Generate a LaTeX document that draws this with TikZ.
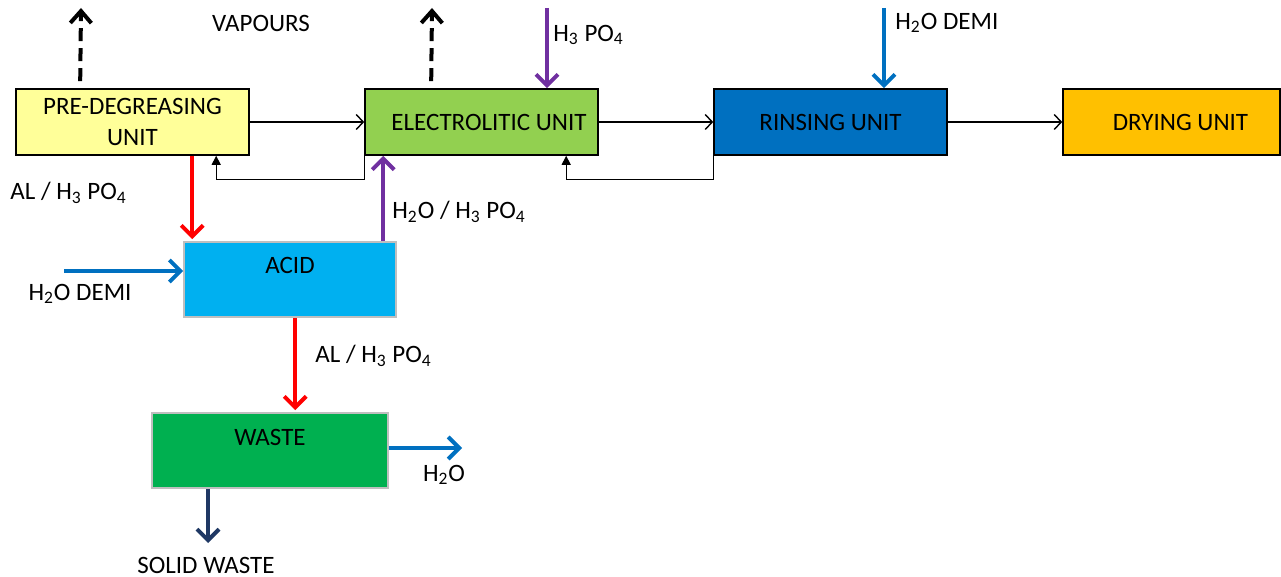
\documentclass[tikz,border=0pt]{standalone}
\usepackage{fontspec}
\setmainfont{Carlito}
\usetikzlibrary{arrows.meta,calc}
\definecolor{cyellow}{HTML}{FFFF99}
\definecolor{cgreen}{HTML}{92D050}
\definecolor{cblue}{HTML}{0070C0}
\definecolor{corange}{HTML}{FFC000}
\definecolor{cacid}{HTML}{00B0F0}
\definecolor{cwaste}{HTML}{00B050}
\definecolor{cgray}{HTML}{BFBFBF}
\definecolor{cred}{HTML}{FF0000}
\definecolor{cpurple}{HTML}{7030A0}
\definecolor{cnavy}{HTML}{1F3864}
\tikzset{
  unitbox/.style={draw=black, line width=0.8pt, minimum width=116.5pt, minimum height=33pt, inner sep=0pt, align=center},
  tankbox/.style={draw=cgray, line width=0.8pt, inner sep=0pt},
  flow/.style={line width=0.7pt, -{Straight Barb[length=3.5pt,width=7.5pt,line width=0.7pt]}},
  backflow/.style={line width=0.7pt, -{Triangle[length=4.5pt,width=4.5pt]}},
  stream/.style={line width=2pt, -{Straight Barb[length=5.5pt,width=11pt,line width=2pt]}},
  vapour/.style={line width=2pt, dash pattern=on 6.5pt off 3.5pt, -{Straight Barb[length=6pt,width=10.5pt,line width=2pt]}},
  lbl/.style={inner sep=0pt}
}
\begin{document}
\begin{tikzpicture}[x=0.5pt,y=-0.5pt, font=\fontsize{12.5}{15.5}\selectfont]
\useasboundingbox (0,0) rectangle (1281,577);

% units
\node[unitbox, fill=cyellow] (pre) at (132.5,122) {PRE-DEGREASING\\UNIT};
\node[unitbox, fill=cgreen] (elec) at (481.5,122) {\hspace*{7.5pt}ELECTROLITIC UNIT};
\node[unitbox, fill=cblue] (rinse) at (830.5,122) {RINSING UNIT};
\node[unitbox, fill=corange, minimum width=108.5pt] (dry) at (1171.5,122) {\hspace*{9pt}DRYING UNIT};
\node[tankbox, fill=cacid, minimum width=106pt, minimum height=37.5pt,
      label={[anchor=north, inner sep=0pt, yshift=-8pt]north:ACID}] (acid) at (290,279.5) {};
\node[tankbox, fill=cwaste, minimum width=118pt, minimum height=37.5pt,
      label={[anchor=north, inner sep=0pt, yshift=-8.5pt]north:WASTE}] (waste) at (270,450.5) {};

% free ends
\coordinate (vapA) at (81,8);
\coordinate (vapB) at (432,8);
\coordinate (h3po4in) at (547,8);
\coordinate (h2otop) at (884,8);
\coordinate (h2oleft) at (64,271);
\coordinate (h2oout) at (462,448);
\coordinate (solid) at (208,543);

% main line
\draw[flow] (pre.east) -- (elec.west);
\draw[flow] (elec.east) -- (rinse.west);
\draw[flow] (rinse.east) -- (dry.west);

% back flows
\draw[backflow] (elec.south west) -- ++(0,24) -| ($(pre.south west)+(201,0)$);
\draw[backflow] (rinse.south west) -- ++(0,24) -| ($(elec.south west)+(202,0)$);

% vapours
\draw[vapour] ($(pre.north west)+(65,-7)$) -- (vapA);
\draw[vapour] ($(elec.north west)+(67,-7)$) -- (vapB);
\node[lbl] (vaplbl) at (261,23) {VAPOURS};

% inputs from top
\draw[stream, cpurple] (h3po4in) -- (h3po4in |- elec.north);
\node[lbl, anchor=west] (h3po4lbl) at (553,35) {H\textsubscript{3} PO\textsubscript{4}};
\draw[stream, cblue] (h2otop) -- (h2otop |- rinse.north);
\node[lbl, anchor=west] (h2otoplbl) at (895,23) {H\textsubscript{2}O DEMI};

% acid connections
\coordinate (redA) at ($(pre.south west)+(177,0)$);
\draw[stream, cred, shorten >=1pt] (redA) -- (redA |- acid.north);
\node[lbl, anchor=west] (al1) at (10,193) {AL / H\textsubscript{3} PO\textsubscript{4}};
\coordinate (purA) at ($(acid.north west)+(200,0)$);
\draw[stream, cpurple] (purA) -- (purA |- elec.south);
\node[lbl, anchor=west] (h2oh3lbl) at (392,212) {H\textsubscript{2}O / H\textsubscript{3} PO\textsubscript{4}};
\draw[stream, cblue] (h2oleft) -- (h2oleft -| acid.west);
\node[lbl] (h2oleftlbl) at (80,294) {H\textsubscript{2}O DEMI};

% waste connections
\coordinate (redB) at ($(acid.south west)+(112,0)$);
\draw[stream, cred, shorten >=1pt] (redB) -- (redB |- waste.north);
\node[lbl, anchor=west] (al2) at (315,356) {AL / H\textsubscript{3} PO\textsubscript{4}};
\draw[stream, cblue] (h2oout -| waste.east) -- (h2oout);
\node[lbl] (h2ooutlbl) at (444,475) {H\textsubscript{2}O};
\draw[stream, cnavy] (solid |- waste.south) -- (solid);
\node[lbl] (solidlbl) at (206,565) {SOLID WASTE};
\end{tikzpicture}
\end{document}
